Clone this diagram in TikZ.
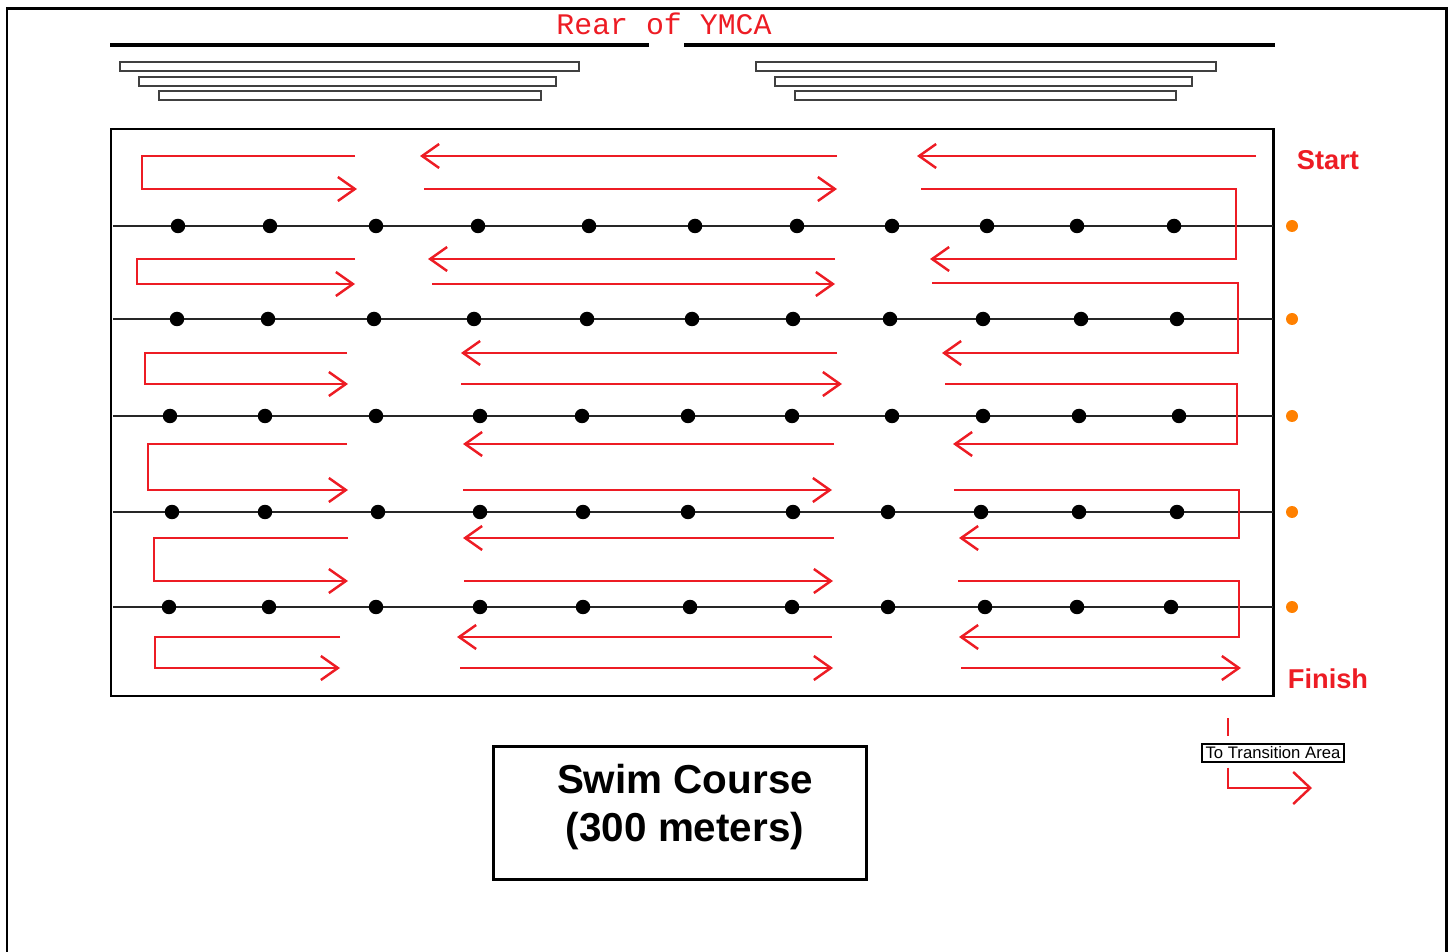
\documentclass[tikz,border=0pt]{standalone}
\usepackage{fontspec}
\setmainfont{Liberation Sans}
\newfontfamily\ymcafont{Liberation Mono}
\usetikzlibrary{arrows.meta}
\definecolor{swimred}{RGB}{237,28,36}
\definecolor{buoy}{RGB}{255,128,0}
\tikzset{
	swim/.style={draw=swimred,line width=1.4pt},
	lane/.style={line width=1.1pt,black!85},
	bench/.style={draw=black!75,line width=0.9pt},
	redlabel/.style={text=swimred,font=\bfseries\fontsize{15.5}{18}\selectfont},
	>={Straight Barb[length=0.34cm,width=0.48cm]}
}
\begin{document}
\begin{tikzpicture}[x=0.02cm,y=-0.02cm]
	\useasboundingbox (0,0) rectangle (1450,952);
	\draw[line width=1.7pt] (7,952) -- (7,9) -- (1446,9) -- (1446,952);
	\node[text=swimred,font=\ymcafont\fontsize{17}{20}\selectfont] (rear) at (664,24) {Rear of YMCA};
	\draw[line width=2.3pt] (110,45) -- (649,45) (684,45) -- (1275,45);
	\foreach \xa/\xb/\ya in {120/579/62,139/556/77,159/541/91,756/1216/62,775/1192/77,795/1176/91}
		\draw[bench] (\xa,\ya) rectangle (\xb,\ya+9);
	\draw[line width=1.7pt] (111,129) rectangle (1273,696);
	\foreach \y/\xs in {226/{178,270,376,478,589,695,797,892,987,1077,1174},
			319/{177,268,374,474,587,692,793,890,983,1081,1177},
			416/{170,265,376,480,582,688,792,892,983,1079,1179},
			512/{172,265,378,480,583,688,793,888,981,1079,1177},
			607/{169,269,376,480,583,690,792,888,985,1077,1171}}{
		\draw[lane] (113,\y) -- (1273,\y);
		\foreach \x in \xs
			\fill (\x,\y) circle (0.145cm);
		\fill[buoy] (1292,\y) circle (0.12cm);
	}
	\draw[swim,->] (1256,156) -- (917,156);
	\foreach \y/\xa/\xb in {156/837/420,259/835/428,353/837/461,444/834/463,538/834/463,637/832/457}
		\draw[swim,->] (\xa,\y) -- (\xb,\y);
	\foreach \y/\xa/\xb in {189/424/837,284/432/835,384/461/842,490/463/832,581/464/833,668/460/833}
		\draw[swim,->] (\xa,\y) -- (\xb,\y);
	\foreach \ya/\yb/\xa/\xb/\xc in {156/189/355/142/357,259/284/355/137/355,353/384/347/145/348,444/490/347/148/348,538/581/348/154/348,637/668/340/155/340}
		\draw[swim,->] (\xa,\ya) -- (\xb,\ya) -- (\xb,\yb) -- (\xc,\yb);
	\foreach \ya/\yb/\xa/\xb/\xc in {189/259/921/1236/930,283/353/932/1238/942,384/444/945/1237/953,490/538/954/1239/959,581/637/958/1239/959}
		\draw[swim,->] (\xa,\ya) -- (\xb,\ya) -- (\xb,\yb) -- (\xc,\yb);
	\draw[swim,->] (961,668) -- (1241,668);
	\node[redlabel] (start) at (1328,160) {Start};
	\node[redlabel] (finish) at (1328,679) {Finish};
	\node[draw,line width=1.7pt,minimum width=7.48cm,minimum height=2.66cm] (coursebox) at (680,813) {};
	\node[align=center,font=\bfseries\fontsize{23}{27.5}\selectfont] (course) at (685,807) {Swim Course\\(300 meters)};
	\node[draw,line width=0.9pt,inner xsep=2pt,inner ysep=1.5pt,font=\fontsize{9.5}{11}\selectfont] (trans) at (1273,753) {To Transition Area};
	\coordinate (exit) at (1228,718);
	\draw[swim,shorten >=0.14cm] (exit) -- (exit |- trans.north);
	\draw[swim,->,>={Straight Barb[length=0.34cm,width=0.64cm]},shorten <=0.1cm] (exit |- trans.south) -- (1228,788) -- (1312,788);
\end{tikzpicture}
\end{document}
